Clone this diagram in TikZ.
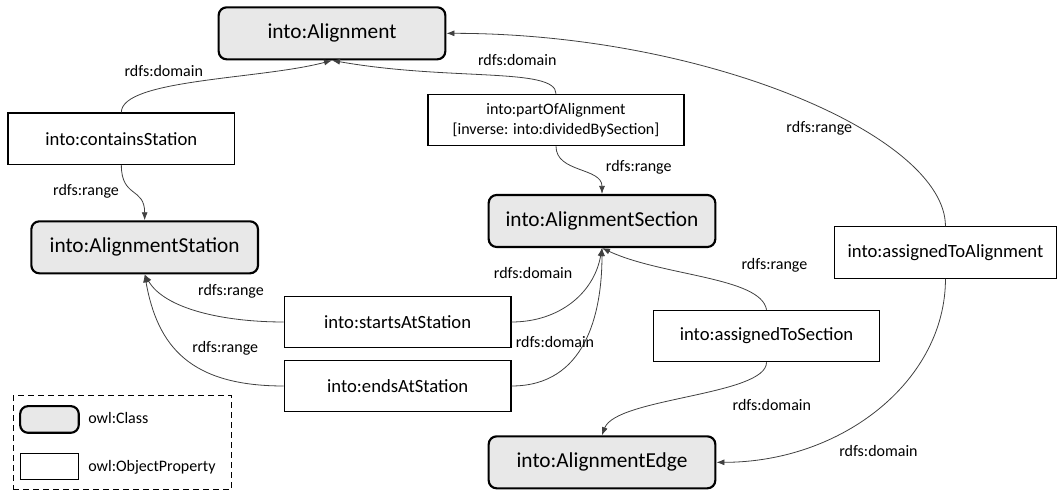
\documentclass[tikz,border=0pt]{standalone}
\usepackage{fontspec}
\setmainfont{Carlito}
\usepackage{tikz}
\usetikzlibrary{arrows.meta,positioning}

\begin{document}
\begin{tikzpicture}[x=1pt,y=1pt,on grid,
  cls/.style={draw,rectangle,rounded corners=6pt,line width=1.6pt,fill=gray!18,
    minimum width=170pt,minimum height=39pt,font=\fontsize{16}{19}\selectfont},
  prop/.style={draw,rectangle,line width=.9pt,fill=white,
    minimum width=170pt,minimum height=38.5pt,font=\fontsize{14}{17}\selectfont},
  lbl/.style={inner sep=1pt,font=\fontsize{12}{14}\selectfont},
  conn/.style={-{Latex[length=6pt,width=4.5pt]},draw=black!75,line width=.6pt}]
\useasboundingbox (0,0) rectangle (792.75,369);

\node[cls] (al) at (249,344) {into:Alignment};
\node[prop] (cs) [below left=79pt and 158pt of al] {into:containsStation};
\node[cls] (ast) [below right=81.5pt and 17.5pt of cs] {into:AlignmentStation};
\node[prop,minimum width=192pt,align=center,font=\fontsize{12}{15}\selectfont] (pa)
  [below right=65pt and 168pt of al] {into:partOfAlignment\\{}[inverse: into:dividedBySection]};
\node[cls] (asec) [below right=75.75pt and 34.5pt of pa] {into:AlignmentSection};
\node[prop] (sas) [below right=56pt and 189.75pt of ast] {into:startsAtStation};
\node[prop] (eas) [below=48pt of sas] {into:endsAtStation};
\node[cls] (aedge) [below=181pt of asec] {into:AlignmentEdge};
\node[prop] (ats) [below right=86.25pt and 123.4pt of asec] {into:assignedToSection};
\node[prop,minimum width=166pt] (ata) [above right=62.6pt and 134.2pt of ats] {into:assignedToAlignment};

% domains and ranges
\draw[conn] (cs.north) to[out=90,in=195,out distance=25pt,in distance=55pt]
  node[lbl,pos=.35,above=7pt] (d1) {rdfs:domain} (al.south);
\draw[conn] (pa.north) to[out=90,in=-10,out distance=20pt,in distance=90pt]
  node[lbl,pos=.37,above=7pt] (d2) {rdfs:domain} (al.south);
\draw[conn] (ata.north) to[out=90,in=0,out distance=67.5pt,in distance=195pt]
  node[lbl,pos=.38,anchor=east,yshift=-3pt] (r1) {rdfs:range} (al.east);
\draw[conn] (cs.south) to[out=-90,in=90,out distance=25pt,in distance=25pt]
  node[lbl,pos=.45,left=8pt] (r2) {rdfs:range} (ast.north);
\draw[conn] (pa.south) to[out=-90,in=90,out distance=20pt,in distance=20pt]
  node[lbl,pos=.4,right=24pt] (r3) {rdfs:range} (asec.north);
\draw[conn] (sas.west) to[out=180,in=-60,out distance=45pt,in distance=30pt]
  node[lbl,pos=.3,above=14pt] (r4) {rdfs:range} (ast.south);
\draw[conn] (eas.west) to[out=180,in=-80,out distance=70pt,in distance=55pt]
  node[lbl,pos=.45,anchor=south west,yshift=4pt] (r5) {rdfs:range} (ast.south);
\draw[conn] (sas.east) to[out=0,in=-100,out distance=35pt,in distance=35pt]
  node[lbl,pos=.8,left=15pt] (d3) {rdfs:domain} (asec.south);
\draw[conn] (eas.east) to[out=0,in=-90,out distance=55pt,in distance=50pt]
  node[lbl,pos=.5,xshift=-22pt] (d4) {rdfs:domain} (asec.south);
\draw[conn] (ats.north) to[out=100,in=-25,out distance=25pt,in distance=50pt]
  node[lbl,pos=.3,above right=10pt and 0pt] (r6) {rdfs:range} (asec.south);
\draw[conn] (ats.south) to[out=-90,in=70,out distance=25pt,in distance=30pt]
  node[lbl,pos=.3,below right=9pt and -2pt] (d5) {rdfs:domain} (aedge.north);
\draw[conn] (ata.south) to[out=-90,in=0,out distance=76pt,in distance=95pt]
  node[lbl,pos=.5,below=26pt] (d6) {rdfs:domain} (aedge.east);

% legend
\node[draw,dashed,line width=.9pt,dash pattern=on 4.5pt off 3pt,
  minimum width=164pt,minimum height=70pt] (legend) at (91.9,37.1) {};
\node[cls,minimum width=44pt,minimum height=20pt] (lgcls) at (37.1,54.4) {};
\node[prop,minimum width=43pt,minimum height=20pt] (lgprop) at (37.1,19.1) {};
\node[lbl,anchor=west] (lgclstxt) at (65,55.5) {owl:Class};
\node[lbl,anchor=west] (lgproptxt) at (65,18.75) {owl:ObjectProperty};

\end{tikzpicture}
\end{document}
